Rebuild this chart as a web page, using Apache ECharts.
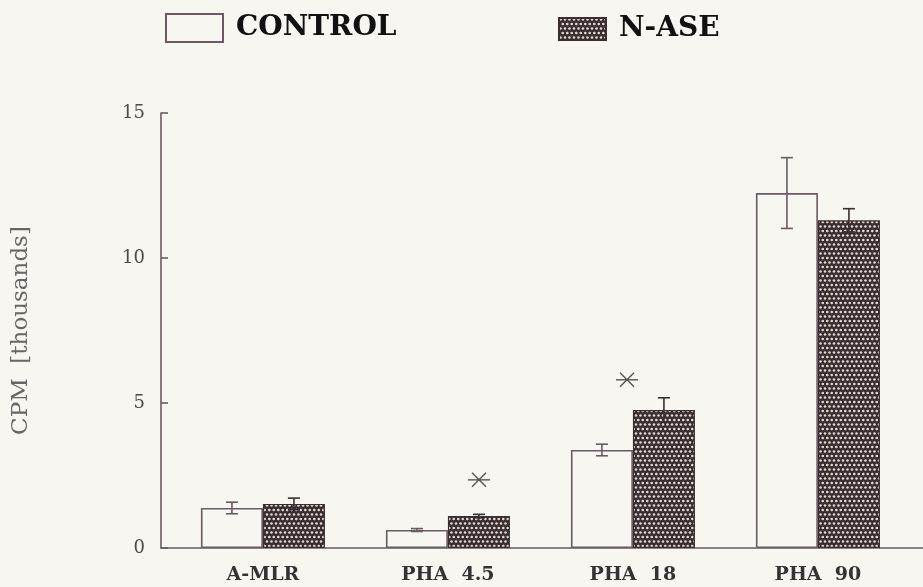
<!DOCTYPE html>
<html>
<head>
<meta charset="utf-8">
<script src="https://cdn.jsdelivr.net/npm/echarts@6/dist/echarts.min.js"></script>
<style>
html,body{margin:0;padding:0;background:#f7f6f1;}
#c{width:923px;height:587px;}
</style>
</head>
<body>
<div id="c"></div>
<script>
// ---- data ----
var categories = ['A-MLR', 'PHA  4.5', 'PHA  18', 'PHA  90'];
var controlValues = [1.38, 0.62, 3.38, 12.24];
var controlErrors = [0.2, 0.05, 0.2, 1.22];
var naseValues = [1.52, 1.10, 4.76, 11.30];
var naseErrors = [0.2, 0.06, 0.42, 0.4];
// significance stars: [x position (category units), y value]
var starPoints = [[1.168, 2.35], [1.968, 5.8]];
var yTicks = [0, 5, 10, 15];

// ---- styles ----
var BG = '#f7f6f1';
var AXIS = '#6b5a63';
var DARK = '#3a2e30';
var BAR_W = 62;

function makePattern() {
  var c = document.createElement('canvas');
  c.width = 9; c.height = 9;
  var g = c.getContext('2d');
  g.fillStyle = DARK;
  g.fillRect(0, 0, 9, 9);
  g.fillStyle = '#dedad2';
  [[1.5,1.5],[6,1.5],[3.75,6],[8.25,6],[-0.75,6]].forEach(function (p) {
    g.beginPath();
    g.arc(p[0], p[1], 1.3, 0, Math.PI * 2);
    g.fill();
  });
  return c;
}
var pattern = { image: makePattern(), repeat: 'repeat' };

var controlData = controlValues.map(function (v, i) { return [i, v]; });
var naseData = naseValues.map(function (v, i) { return [i, v]; });
var ctrlErr = controlValues.map(function (v, i) { return [i, v - controlErrors[i], v + controlErrors[i]]; });
var naseErr = naseValues.map(function (v, i) { return [i, v - naseErrors[i], v + naseErrors[i]]; });

function errRender(offset, color) {
  return function (params, api) {
    var x = api.value(0);
    var lo = api.coord([x, api.value(1)]);
    var hi = api.coord([x, api.value(2)]);
    var cx = lo[0] + offset;
    var cap = 6;
    var st = { stroke: color, lineWidth: 1.6 };
    return {
      type: 'group',
      children: [
        { type: 'line', shape: { x1: cx, y1: lo[1], x2: cx, y2: hi[1] }, style: st },
        { type: 'line', shape: { x1: cx - cap, y1: lo[1], x2: cx + cap, y2: lo[1] }, style: st },
        { type: 'line', shape: { x1: cx - cap, y1: hi[1], x2: cx + cap, y2: hi[1] }, style: st }
      ]
    };
  };
}

function starRender(params, api) {
  var p = api.coord([api.value(0), api.value(1)]);
  var st = { stroke: '#555', lineWidth: 1.4 };
  return {
    type: 'group',
    children: [
      { type: 'line', shape: { x1: p[0] - 11, y1: p[1], x2: p[0] + 11, y2: p[1] }, style: st },
      { type: 'line', shape: { x1: p[0] - 7, y1: p[1] - 7, x2: p[0] + 7, y2: p[1] + 7 }, style: st },
      { type: 'line', shape: { x1: p[0] - 7, y1: p[1] + 7, x2: p[0] + 7, y2: p[1] - 7 }, style: st }
    ]
  };
}

var chart = echarts.init(document.getElementById('c'), null, { renderer: 'canvas' });
var legendText = { fontFamily: 'DejaVu Serif', fontWeight: 'bold', fontSize: 28, color: '#111', padding: [0, 0, 0, 8] };
chart.setOption({
  backgroundColor: BG,
  animation: false,
  legend: [
    { left: 160, top: 8, data: [{ name: 'CONTROL', icon: 'rect' }], itemWidth: 57, itemHeight: 28, textStyle: legendText, selectedMode: false },
    { left: 553, top: 10, data: [{ name: 'N-ASE', icon: 'rect' }], itemWidth: 47, itemHeight: 22, textStyle: legendText, selectedMode: false }
  ],
  grid: { left: 161, right: 0, top: 113, bottom: 39 },
  xAxis: {
    type: 'value',
    min: -0.551,
    max: 3.568,
    splitLine: { show: false },
    axisLine: { lineStyle: { color: AXIS, width: 1.6 } },
    axisTick: { show: false },
    axisLabel: {
      customValues: [0, 1, 2, 3],
      formatter: function (v) { return categories[Math.round(v)]; },
      fontFamily: 'DejaVu Serif', fontWeight: 'bold', fontSize: 19, color: '#333', margin: 18
    }
  },
  yAxis: {
    type: 'value',
    min: 0, max: 15, interval: 5,
    name: 'CPM  [thousands]',
    nameLocation: 'middle',
    nameGap: 128,
    nameTextStyle: { fontFamily: 'DejaVu Serif', fontSize: 23, color: '#666' },
    splitLine: { show: false },
    axisLine: { show: true, onZero: false, lineStyle: { color: AXIS, width: 1.6 } },
    axisTick: { show: true, inside: true, length: 7, lineStyle: { color: AXIS, width: 1.6 } },
    axisLabel: {
      customValues: yTicks,
      fontFamily: 'DejaVu Serif', fontSize: 18, color: '#4a4a4a', margin: 16
    }
  },
  series: [
    {
      name: 'CONTROL', type: 'bar', data: controlData, barWidth: BAR_W, barGap: '0%',
      itemStyle: { color: BG, borderColor: AXIS, borderWidth: 1.6 }
    },
    {
      name: 'N-ASE', type: 'bar', data: naseData, barWidth: BAR_W, barGap: '0%',
      itemStyle: { color: pattern, borderColor: DARK, borderWidth: 1.2 }
    },
    { type: 'custom', data: ctrlErr, renderItem: errRender(-BAR_W / 2, AXIS), z: 5 },
    { type: 'custom', data: naseErr, renderItem: errRender(BAR_W / 2, DARK), z: 5 },
    { type: 'custom', data: starPoints, renderItem: starRender, z: 5 }
  ]
});
</script>
</body>
</html>
